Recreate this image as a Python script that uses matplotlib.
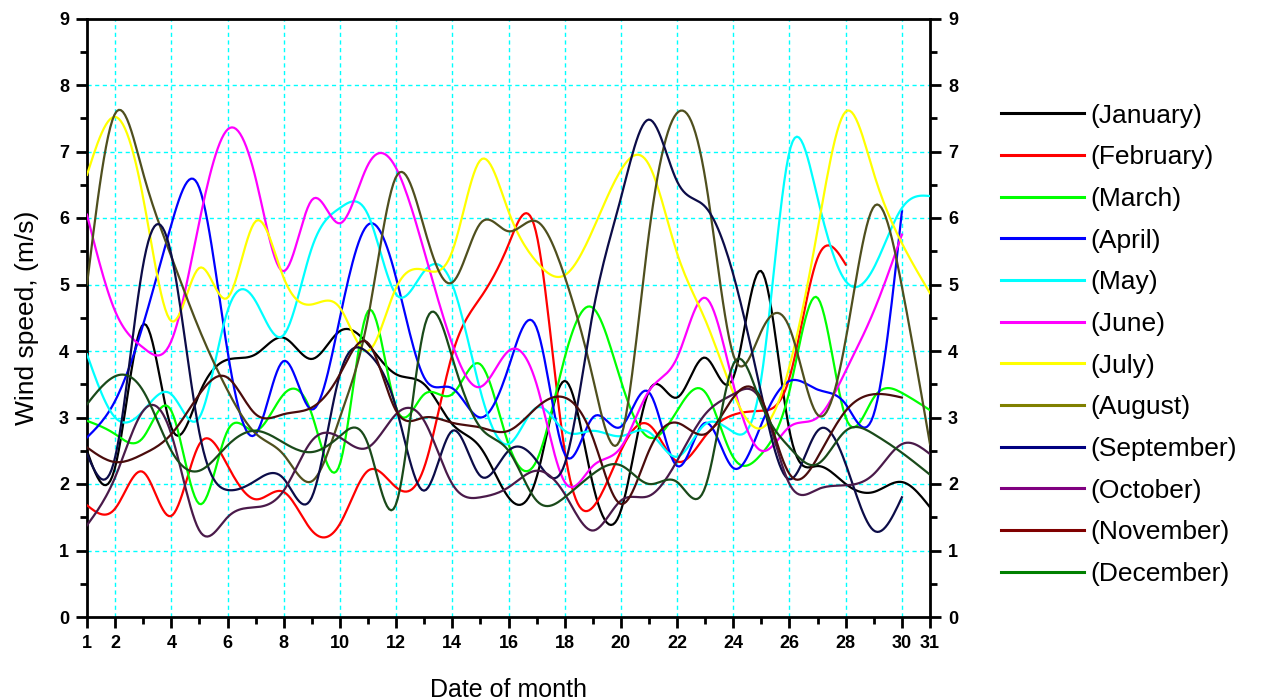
import numpy as np
import matplotlib
matplotlib.use("Agg")
import matplotlib.pyplot as plt
from matplotlib.lines import Line2D
from matplotlib.ticker import MultipleLocator, FixedLocator

plt.rcParams['font.family'] = ['Liberation Sans', 'DejaVu Sans']

months = ["January", "February", "March", "April", "May", "June",
          "July", "August", "September", "October", "November", "December"]

jan = [2.5, 2.25, 4.4, 2.85, 3.36, 3.87, 3.95, 4.2, 3.88, 4.3, 4.1, 3.65, 3.5, 2.9, 2.55, 1.8,
       2.1, 3.55, 2.0, 1.6, 3.4, 3.3, 3.9, 3.6, 5.2, 2.8, 2.27, 2.0, 1.88, 2.03, 1.65]
feb = [1.68, 1.63, 2.18, 1.52, 2.6, 2.28, 1.77, 1.88, 1.3, 1.4, 2.2, 1.95, 2.25, 3.95, 4.8, 5.6,
       5.75, 2.5, 1.65, 2.5, 2.89, 2.34, 2.72, 3.04, 3.1, 3.6, 5.4, 5.3]
mar = [2.95, 2.75, 2.7, 3.1, 1.7, 2.8, 2.8, 3.35, 3.05, 2.3, 4.6, 3.15, 3.35, 3.35, 3.8, 2.6,
       2.35, 3.9, 4.65, 3.55, 2.7, 3.1, 3.38, 2.4, 2.45, 3.4, 4.8, 3.0, 3.3, 3.37, 3.11]
apr = [2.7, 3.25, 4.4, 5.9, 6.45, 4.0, 2.75, 3.85, 3.12, 4.5, 5.9, 5.1, 3.6, 3.44, 3.0, 3.75,
       4.35, 2.45, 3.0, 2.86, 3.38, 2.27, 2.92, 2.24, 2.9, 3.55, 3.42, 3.2, 3.05, 6.1]
may = [3.95, 3.0, 3.1, 3.35, 3.0, 4.6, 4.75, 4.24, 5.55, 6.15, 6.05, 4.85, 5.2, 5.0, 3.4, 2.6,
       3.15, 2.8, 2.8, 2.72, 2.78, 2.41, 2.9, 2.78, 3.6, 7.0, 6.3, 5.05, 5.25, 6.15, 6.33]
jun = [6.05, 4.6, 4.05, 4.15, 5.95, 7.33, 6.6, 5.2, 6.27, 5.92, 6.8, 6.75, 5.5, 4.1, 3.46, 4.0,
       3.5, 2.03, 2.27, 2.55, 3.4, 3.9, 4.8, 3.5, 2.5, 2.86, 3.0, 3.7, 4.6, 5.75]
jul = [6.65, 7.52, 6.3, 4.45, 5.25, 4.8, 5.95, 5.1, 4.7, 4.65, 4.0, 4.95, 5.22, 5.5, 6.87, 6.1,
       5.34, 5.14, 5.82, 6.72, 6.8, 5.47, 4.47, 3.37, 2.84, 3.77, 5.82, 7.6, 6.67, 5.62, 4.87]
aug = [5.0, 7.57, 6.67, 5.42, 4.32, 3.41, 2.76, 2.44, 2.04, 3.0, 4.5, 6.62, 5.85, 5.03, 5.92, 5.8,
       5.95, 5.12, 3.6, 2.7, 5.77, 7.58, 6.6, 3.94, 4.3, 4.35, 3.04, 4.17, 6.17, 4.97, 2.6]
sep = [2.45, 2.4, 5.3, 5.45, 2.77, 1.91, 2.05, 2.08, 1.8, 3.65, 3.97, 3.15, 1.9, 2.8, 2.12, 2.5,
       2.35, 2.3, 4.57, 6.3, 7.48, 6.55, 6.17, 5.15, 3.35, 2.07, 2.8, 2.3, 1.3, 1.8]
oct_ = [1.38, 2.1, 3.1, 2.75, 1.3, 1.5, 1.65, 1.9, 2.65, 2.7, 2.55, 3.05, 2.95, 2.0, 1.8, 1.95,
        2.2, 1.85, 1.3, 1.75, 1.82, 2.35, 3.05, 3.35, 3.24, 2.0, 1.92, 1.98, 2.15, 2.6, 2.45]
nov = [2.55, 2.33, 2.45, 2.75, 3.35, 3.6, 3.05, 3.05, 3.15, 3.65, 4.12, 3.1, 3.0, 2.92, 2.85, 2.8,
       3.15, 3.3, 2.7, 1.7, 2.5, 2.92, 2.75, 3.3, 3.28, 2.15, 2.4, 3.1, 3.35, 3.3]
dec = [3.2, 3.62, 3.4, 2.5, 2.2, 2.58, 2.8, 2.62, 2.48, 2.72, 2.6, 1.7, 4.35, 3.9, 2.85, 2.5,
       1.75, 1.8, 2.15, 2.28, 2.0, 2.03, 1.95, 3.8, 3.2, 2.55, 2.3, 2.8, 2.75, 2.47, 2.14]

series = [jan, feb, mar, apr, may, jun, jul, aug, sep, oct_, nov, dec]

line_colors = ['#000000', '#ff0000', '#00ff00', '#0000ff', '#00ffff', '#ff00ff',
               '#ffff00', '#4f4f1e', '#0c0c48', '#4a1a4a', '#4a0c0c', '#1a4a1a']
legend_colors = ['#000000', '#ff0000', '#00ff00', '#0000ff', '#00ffff', '#ff00ff',
                 '#ffff00', '#808000', '#000080', '#800080', '#800000', '#008000']

x_ticks = [1, 2, 4, 6, 8, 10, 12, 14, 16, 18, 20, 22, 24, 26, 28, 30, 31]


def natural_spline(x, y, xs):
    x = np.asarray(x, float)
    y = np.asarray(y, float)
    n = len(x)
    h = np.diff(x)
    A = np.zeros((n, n))
    b = np.zeros(n)
    A[0, 0] = 1.0
    A[-1, -1] = 1.0
    for i in range(1, n - 1):
        A[i, i - 1] = h[i - 1]
        A[i, i] = 2 * (h[i - 1] + h[i])
        A[i, i + 1] = h[i]
        b[i] = 3 * ((y[i + 1] - y[i]) / h[i] - (y[i] - y[i - 1]) / h[i - 1])
    c = np.linalg.solve(A, b)
    bc = (y[1:] - y[:-1]) / h - h * (2 * c[:-1] + c[1:]) / 3
    d = (c[1:] - c[:-1]) / (3 * h)
    idx = np.clip(np.searchsorted(x, xs) - 1, 0, n - 2)
    dx = xs - x[idx]
    return y[idx] + bc[idx] * dx + c[idx] * dx ** 2 + d[idx] * dx ** 3


fig = plt.figure(figsize=(12.75, 7.0), dpi=100)
ax = fig.add_axes([87 / 1275, 83 / 700, 843 / 1275, 598.5 / 700])

for vals, col in zip(series, line_colors):
    days = np.arange(1, len(vals) + 1)
    xs = np.linspace(1, len(vals), 400)
    ax.plot(xs, natural_spline(days, vals, xs), color=col, lw=1.6, zorder=3)

ax.set_xlim(1, 31)
ax.set_ylim(0, 9)

for gx in range(2, 31, 2):
    ax.axvline(gx, color='#00ffff', lw=1.0, ls=(0, (3, 2.5)), zorder=1)
for gy in range(1, 9):
    ax.axhline(gy, color='#00ffff', lw=1.0, ls=(0, (3, 2.5)), zorder=1)

ax.xaxis.set_major_locator(FixedLocator(x_ticks))
ax.set_xticklabels([str(t) for t in x_ticks])
ax.xaxis.set_minor_locator(FixedLocator(list(range(3, 30, 2))))
ax.yaxis.set_major_locator(MultipleLocator(1))
ax.yaxis.set_minor_locator(MultipleLocator(0.5))

ax.tick_params(axis='both', which='major', direction='out', length=8, width=2,
               labelsize=13, pad=5)
ax.tick_params(axis='both', which='minor', direction='out', length=5, width=2)
ax.tick_params(axis='y', which='both', right=True, labelright=True)
for lab in ax.get_xticklabels() + ax.get_yticklabels():
    lab.set_fontweight('bold')

for sp in ax.spines.values():
    sp.set_linewidth(2)
    sp.set_color('black')

ax.set_ylabel('Wind speed, (m/s)', fontsize=19, labelpad=14)
ax.set_xlabel('Date of month', fontsize=18, labelpad=19)

handles = [Line2D([0], [0], color=c, lw=2.2) for c in legend_colors]
labels = ['(' + m + ')' for m in months]
fig.legend(handles, labels, loc='upper left', bbox_to_anchor=(990 / 1275, 1 - 93 / 700),
           frameon=False, fontsize=19, handlelength=3.15, handletextpad=0.25,
           labelspacing=0.67, borderaxespad=0)

fig.savefig('out.png', dpi=100)
